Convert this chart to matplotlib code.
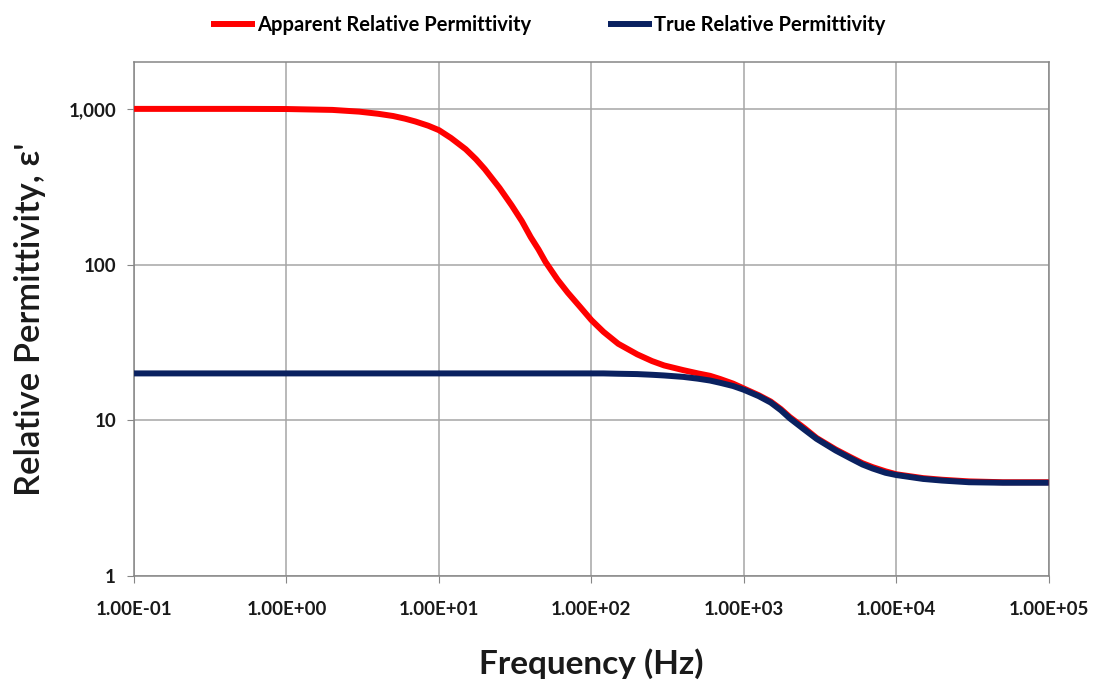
import numpy as np
import matplotlib.pyplot as plt
from matplotlib.ticker import FixedLocator, FixedFormatter, NullLocator

# frequencies (Hz) and relative permittivity
freq = [0.1, 0.2, 0.5, 1, 2, 3, 4, 5, 6, 7, 8.5, 10, 12, 15, 17.5, 20, 25, 30,
        35, 40, 45, 50, 60, 70, 85, 100, 120, 150, 200, 250, 300, 400, 500,
        600, 700, 850, 1000, 1250, 1500, 1750, 2000, 2500, 3000, 4000, 5000,
        6000, 7000, 8500, 1e4, 1.5e4, 2e4, 3e4, 5e4, 1e5]
apparent = [1000, 1000, 1000, 998, 985, 960, 930, 900, 865, 830, 780, 730,
            650, 550, 475, 410, 310, 240, 190, 150, 125, 104, 80, 66, 53, 44,
            37, 31, 26.5, 24, 22.5, 21, 20, 19.3, 18.4, 17.2, 16, 14.5, 13.2,
            11.8, 10.5, 8.9, 7.7, 6.5, 5.8, 5.3, 5.0, 4.7, 4.5, 4.25, 4.15,
            4.05, 4.0, 4.0]
true_eps = [20, 20, 20, 20, 20, 20, 20, 20, 20, 20, 20, 20, 20, 20, 20, 20, 20,
            20, 20, 20, 20, 20, 20, 20, 20, 20, 20, 19.9, 19.8, 19.6, 19.4,
            19.0, 18.5, 18.0, 17.4, 16.6, 15.7, 14.3, 13.0, 11.6, 10.3, 8.7,
            7.6, 6.4, 5.7, 5.2, 4.9, 4.6, 4.45, 4.2, 4.1, 4.0, 3.97, 3.97]

xticks = [1e-1, 1e0, 1e1, 1e2, 1e3, 1e4, 1e5]
xlabels = ['1.00E-01', '1.00E+00', '1.00E+01', '1.00E+02', '1.00E+03',
           '1.00E+04', '1.00E+05']
yticks = [1, 10, 100, 1000]
ylabels = ['1', '10', '100', '1,000']

plt.rcParams['font.family'] = ['Lato', 'DejaVu Sans']

fig = plt.figure(figsize=(10.97, 6.83), dpi=100)
ax = fig.add_axes([0.1222, 0.1567, 0.956 - 0.1222, 0.9092 - 0.1567])

ax.plot(freq, apparent, color='#ff0000', lw=4.3, label='Apparent Relative Permittivity',
        solid_capstyle='butt', solid_joinstyle='round', zorder=3)
ax.plot(freq, true_eps, color='#0a2160', lw=4.3, label='True Relative Permittivity',
        solid_capstyle='butt', solid_joinstyle='round', zorder=4)

ax.set_xscale('log')
ax.set_yscale('log')
ax.set_xlim(0.1, 1e5)
ax.set_ylim(1, 2000)

ax.xaxis.set_major_locator(FixedLocator(xticks))
ax.xaxis.set_major_formatter(FixedFormatter(xlabels))
ax.yaxis.set_major_locator(FixedLocator(yticks))
ax.yaxis.set_major_formatter(FixedFormatter(ylabels))
ax.xaxis.set_minor_locator(NullLocator())
ax.yaxis.set_minor_locator(NullLocator())

ax.grid(True, color='#a6a6a6', lw=1.1)
for s in ax.spines.values():
    s.set_color('#868686')
    s.set_linewidth(1.1)
ax.tick_params(axis='both', direction='out', length=5, color='#868686',
               labelsize=13.5, labelcolor='#1a1a1a', pad=8)
for lab in ax.get_xticklabels() + ax.get_yticklabels():
    lab.set_fontweight('bold')
ax.tick_params(axis='x', pad=13)

ax.set_xlabel('Frequency (Hz)', fontsize=24, fontweight='bold',
              color='#1a1a1a', labelpad=22)
ax.set_ylabel("Relative Permittivity, ε'", fontsize=25, fontweight='semibold',
              color='#1a1a1a', labelpad=16)

leg = fig.legend(loc='upper center', bbox_to_anchor=(0.5, 1.005), ncol=2,
                 frameon=False, handlelength=2.2, handletextpad=0.1,
                 columnspacing=3.8, prop={'weight': 'bold', 'size': 14.5})

fig.savefig('out.png', dpi=100)
